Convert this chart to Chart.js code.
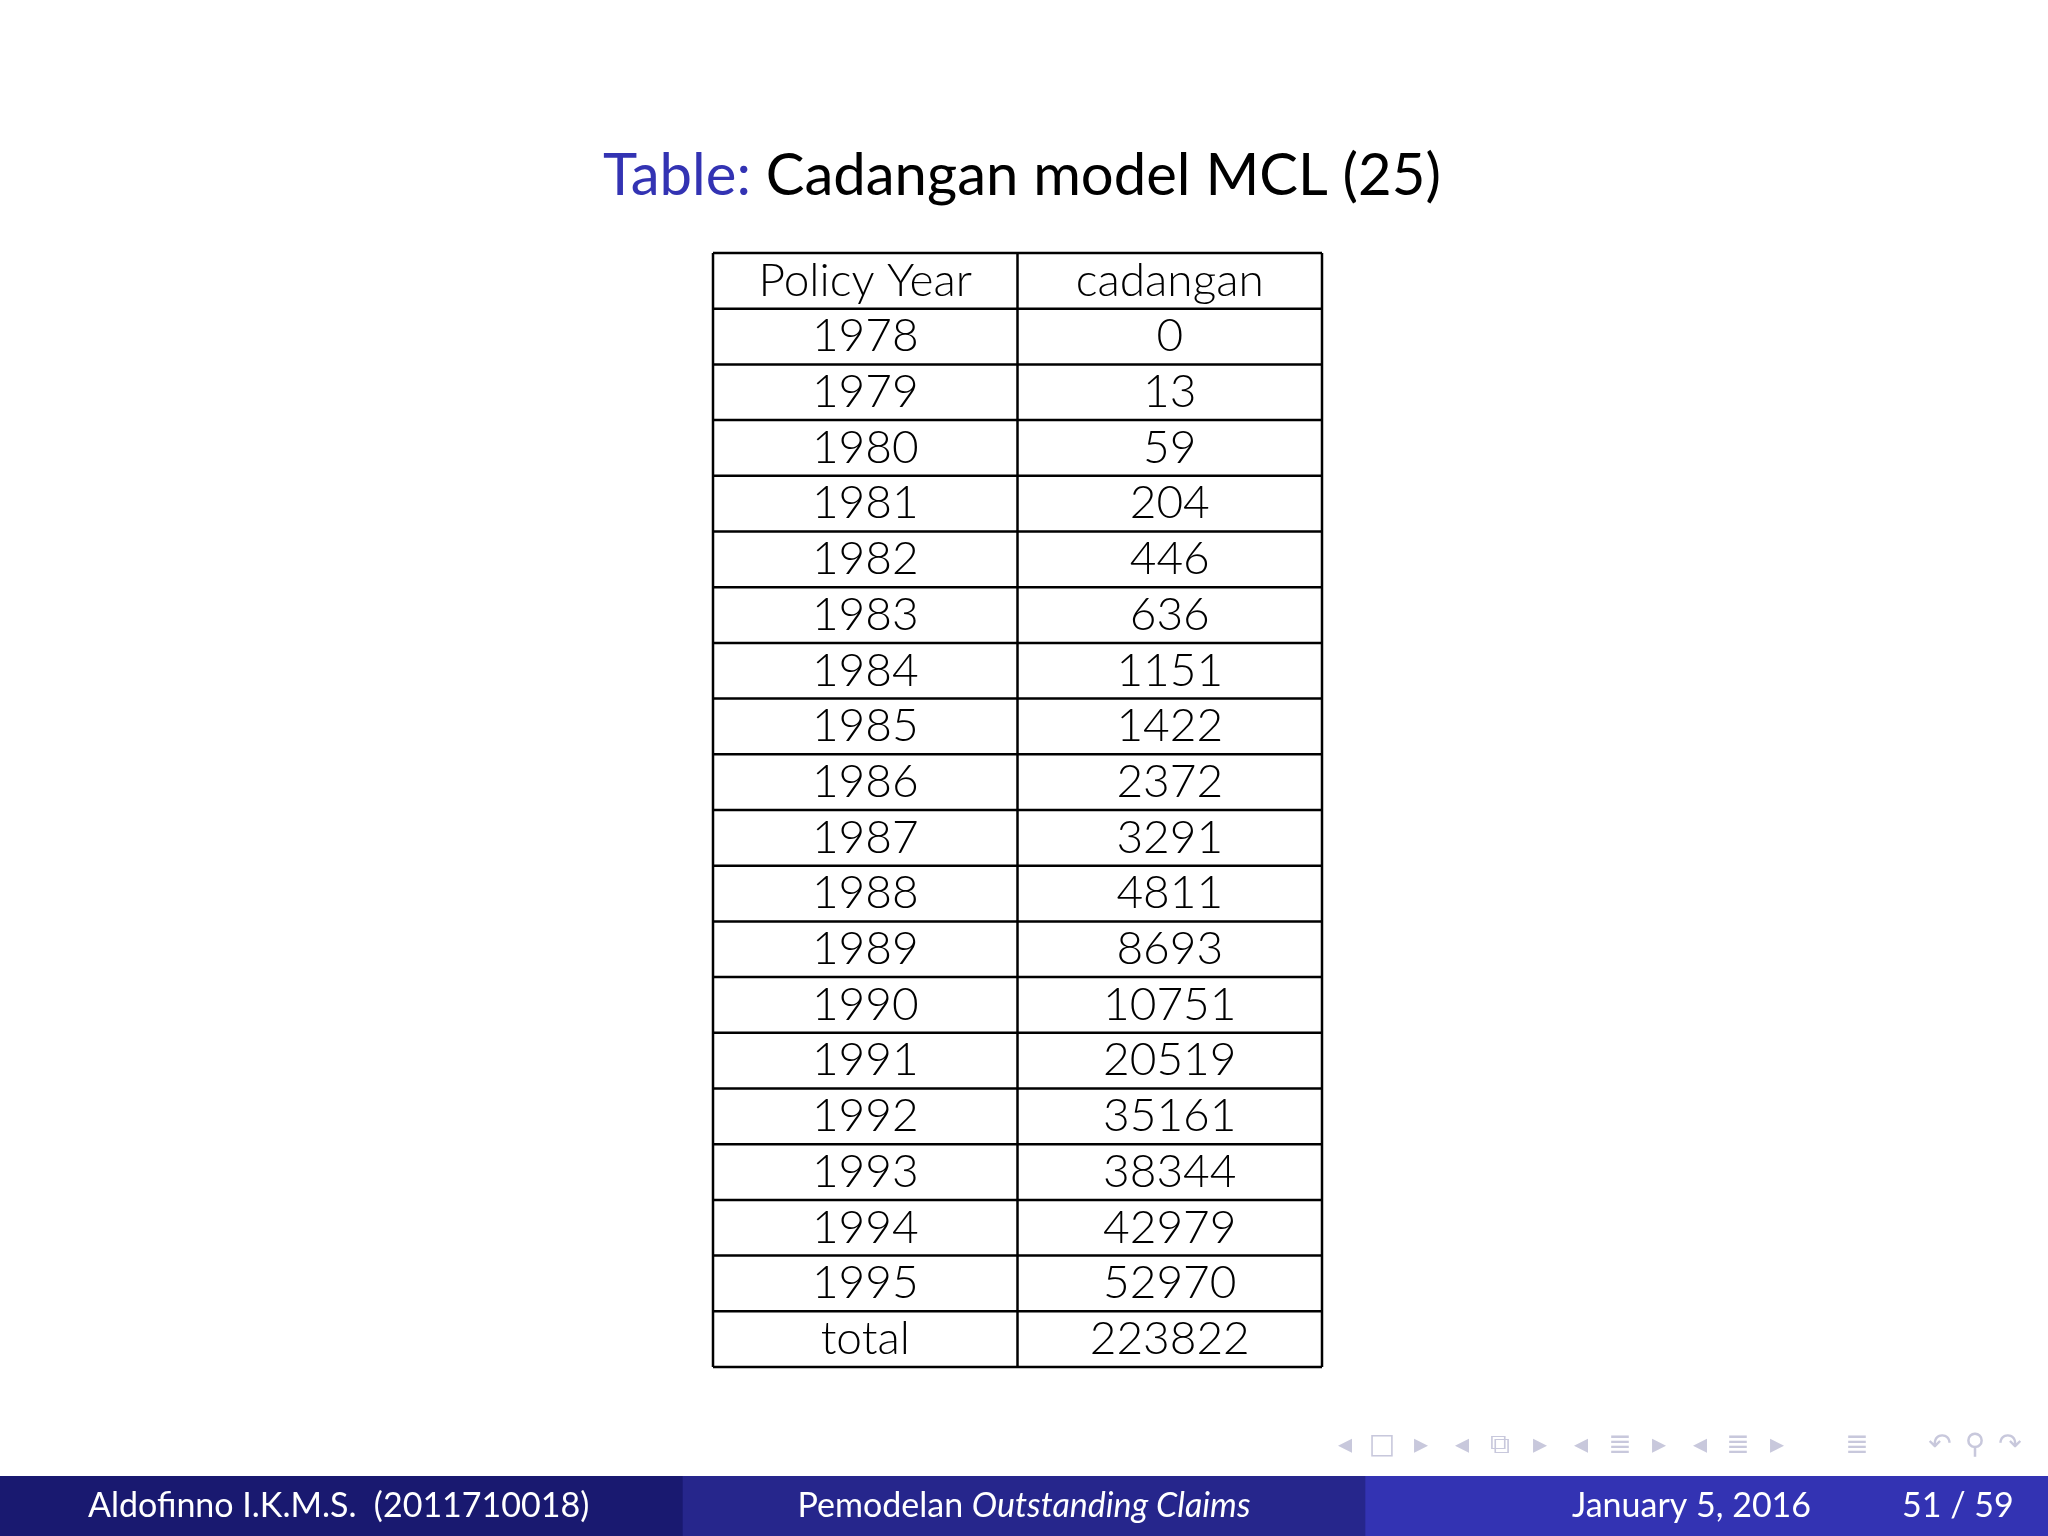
<!DOCTYPE html>
<html><head><meta charset="utf-8">
<script src="https://cdn.jsdelivr.net/npm/chart.js@4"></script>
<style>html,body{margin:0;padding:0;background:#fff;}canvas{display:block;}</style>
</head><body>
<canvas id="c" width="2048" height="1536"></canvas>
<script>
const headers = ['Policy Year', 'cadangan'];
const years = ['1978','1979','1980','1981','1982','1983','1984','1985','1986','1987','1988','1989','1990','1991','1992','1993','1994','1995','total'];
const reserves = [0,13,59,204,446,636,1151,1422,2372,3291,4811,8693,10751,20519,35161,38344,42979,52970,223822];
const titleLabel = 'Table:';
const titleText = 'Cadangan model MCL (25)';
const footer = ['Aldofinno I.K.M.S.  (2011710018)', 'Pemodelan ', 'Outstanding Claims', 'January 5, 2016', '51 / 59'];

const rowLabels = ['header'].concat(years);
const FONT = 'Lato, "Open Sans", sans-serif';

const tablePlugin = {
  id: 'table',
  afterDraw(chart) {
    const ctx = chart.ctx, xs = chart.scales.x, ys = chart.scales.y;
    const step = ys.getPixelForValue(1) - ys.getPixelForValue(0);
    const top = ys.getPixelForValue(0) - step/2;
    const bottom = ys.getPixelForValue(rowLabels.length-1) + step/2;
    const x0 = xs.getPixelForValue(0), x1 = xs.getPixelForValue(1), x2 = xs.getPixelForValue(2);
    ctx.save();
    ctx.strokeStyle = '#000'; ctx.lineWidth = 2.5;
    for (let i = 0; i <= rowLabels.length; i++) {
      const y = top + i*step;
      ctx.beginPath(); ctx.moveTo(x0, y); ctx.lineTo(x2, y); ctx.stroke();
    }
    [x0,x1,x2].forEach(x => { ctx.beginPath(); ctx.moveTo(x, top); ctx.lineTo(x, bottom); ctx.stroke(); });
    ctx.fillStyle = '#000'; ctx.textAlign = 'center'; ctx.textBaseline = 'middle';
    ctx.font = '300 46px ' + FONT;
    const c0 = xs.getPixelForValue(0.5), c1 = xs.getPixelForValue(1.5);
    ctx.fillText(headers[0], c0, ys.getPixelForValue(0));
    ctx.fillText(headers[1], c1, ys.getPixelForValue(0));
    years.forEach((yr, i) => {
      const y = ys.getPixelForValue(i+1);
      ctx.fillText(yr, c0, y);
      ctx.fillText(String(reserves[i]), c1, y);
    });
    // title
    ctx.font = '400 58px ' + FONT; ctx.textAlign = 'left';
    const w1 = ctx.measureText(titleLabel + ' ').width, w2 = ctx.measureText(titleText).width;
    const tx = 1022 - (w1 + w2)/2;
    ctx.fillStyle = '#3333b3'; ctx.fillText(titleLabel, tx, 176);
    ctx.fillStyle = '#000'; ctx.fillText(titleText, tx + w1, 176);
    // footer
    const cols = ['#191970', '#26268c', '#3333b3'];
    cols.forEach((c, i) => { ctx.fillStyle = c; ctx.fillRect(i*2048/3, 1476, 2048/3 + 1, 60); });
    ctx.fillStyle = '#fff'; ctx.font = '400 34px ' + FONT; ctx.textBaseline = 'middle';
    ctx.textAlign = 'left'; ctx.fillText(footer[0], 88, 1506);
    const wa = ctx.measureText(footer[1]).width;
    ctx.font = 'italic 400 34px ' + FONT;
    const wb = ctx.measureText(footer[2]).width;
    const fx = 1024 - (wa + wb)/2;
    ctx.font = '400 34px ' + FONT; ctx.fillText(footer[1], fx, 1506);
    ctx.font = 'italic 400 34px ' + FONT; ctx.fillText(footer[2], fx + wa, 1506);
    ctx.font = '400 34px ' + FONT;
    ctx.fillText(footer[3], 1572, 1506);
    ctx.fillText(footer[4], 1902, 1506);
    // nav symbols
    ctx.fillStyle = '#c8c8dc'; ctx.font = '28px DejaVu Sans'; ctx.textAlign = 'center';
    const nav = ['◂','□','▸','◂','⧉','▸','◂','≣','▸','◂','≣','▸','≣','↶','⚲','↷'];
    const nx = [1345,1382,1421,1462,1500,1540,1581,1620,1659,1700,1738,1777,1857,1940,1975,2010];
    nav.forEach((s,i)=>ctx.fillText(s, nx[i], 1446));
    ctx.restore();
  }
};

new Chart(document.getElementById('c'), {
  type: 'scatter',
  data: { labels: rowLabels, datasets: [{ data: [], pointRadius: 0 }] },
  options: {
    responsive: false, animation: false,
    layout: { padding: { left: 713, right: 726, top: 253, bottom: 169 } },
    plugins: { legend: { display: false }, tooltip: { enabled: false } },
    scales: {
      x: { type: 'linear', min: 0, max: 2, display: false },
      y: { type: 'category', labels: rowLabels, offset: true, display: false }
    }
  },
  plugins: [tablePlugin]
});
</script>
</body></html>
